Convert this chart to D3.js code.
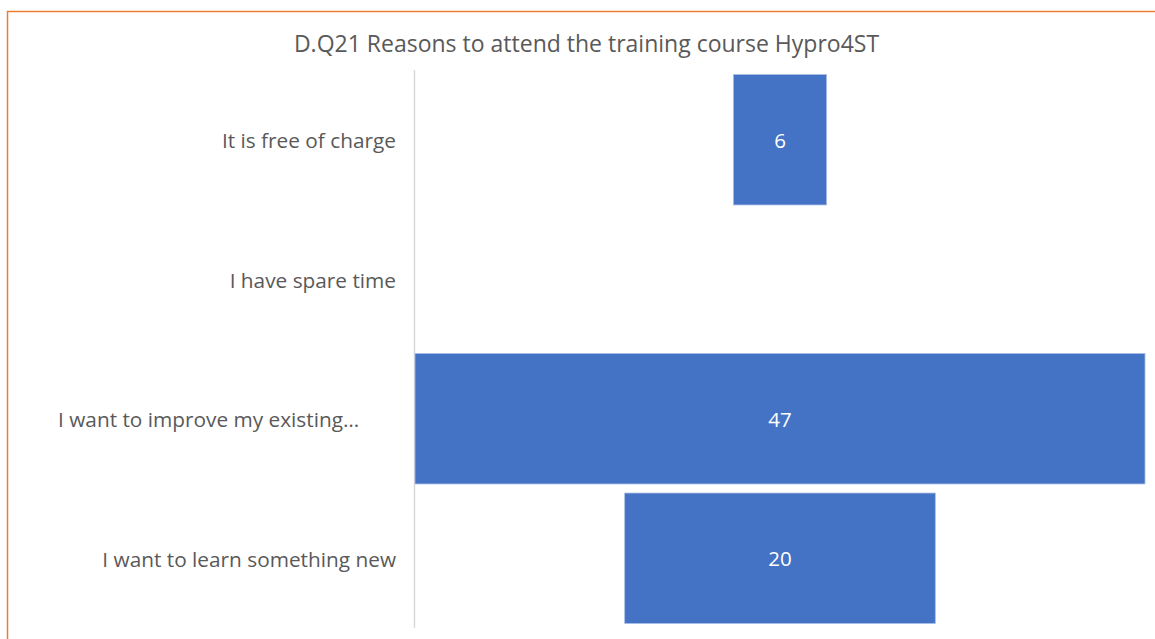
<!DOCTYPE html>
<html>
<head>
<meta charset="utf-8">
<script src="https://cdn.jsdelivr.net/npm/d3@7"></script>
<style>
  html, body { margin: 0; padding: 0; background: #fff; }
  svg { display: block; font-family: "Open Sans", Lato, sans-serif; }
</style>
</head>
<body>
<svg id="chart" width="1155" height="639"></svg>
<script>
// Survey answers: reasons for attending the Hypro4ST course
const categories = [
  "It is free of charge",
  "I have spare time",
  "I want to improve my existing…",
  "I want to learn something new"
];
const counts = [6, 0, 47, 20];
const title = "D.Q21 Reasons to attend the training course Hypro4ST";

const svg = d3.select("#chart");
const W = 1155, H = 639;

// chart frame
svg.append("rect").attr("x", 7.5).attr("y", 11.5)
  .attr("width", W + 10).attr("height", H + 10)
  .attr("fill", "#fff").attr("stroke", "#ED7D31").attr("stroke-width", 1.5);

const plot = { left: 415, right: 1145, top: 70, bottom: 628 };
const maxV = d3.max(counts);

// funnel-style bars centred on the middle of the plot area
const x = d3.scaleLinear().domain([-maxV / 2, maxV / 2]).range([plot.left, plot.right]);
const y = d3.scaleBand().domain(categories).range([plot.top, plot.bottom])
  .paddingInner(0.065).paddingOuter(0.0325);

svg.append("text")
  .attr("x", 586.5).attr("y", 52)
  .attr("text-anchor", "middle")
  .attr("font-size", 23).attr("fill", "#595959")
  .text(title);

// category axis line
svg.append("line")
  .attr("x1", 414.5).attr("x2", 414.5)
  .attr("y1", plot.top).attr("y2", plot.bottom)
  .attr("stroke", "#D9D9D9").attr("stroke-width", 1.5);

const rows = categories.map((c, i) => ({ c, v: counts[i] }));

svg.selectAll("rect.bar").data(rows.filter(d => d.v > 0)).join("rect")
  .attr("class", "bar")
  .attr("x", d => x(-d.v / 2))
  .attr("width", d => x(d.v / 2) - x(-d.v / 2))
  .attr("y", d => y(d.c))
  .attr("height", y.bandwidth())
  .attr("fill", "#4472C4")
  .attr("stroke", "#A9BDE5").attr("stroke-width", 0.8);

svg.selectAll("text.val").data(rows.filter(d => d.v > 0)).join("text")
  .attr("class", "val")
  .attr("x", x(0))
  .attr("y", d => y(d.c) + y.bandwidth() / 2 + 1)
  .attr("dy", "0.35em")
  .attr("text-anchor", "middle")
  .attr("font-size", 20.5).attr("fill", "#fff")
  .text(d => d.v);

// category labels: truncated labels sit left-aligned in the label box
const labelLeft = 58, labelRight = 396;
svg.selectAll("text.cat").data(categories).join("text")
  .attr("class", "cat")
  .attr("x", d => d.endsWith("…") ? labelLeft : labelRight)
  .attr("text-anchor", d => d.endsWith("…") ? "start" : "end")
  .attr("y", d => y(d) + y.bandwidth() / 2 + 1)
  .attr("dy", "0.35em")
  .attr("font-size", 20.8).attr("fill", "#595959")
  .text(d => d);
</script>
</body>
</html>
